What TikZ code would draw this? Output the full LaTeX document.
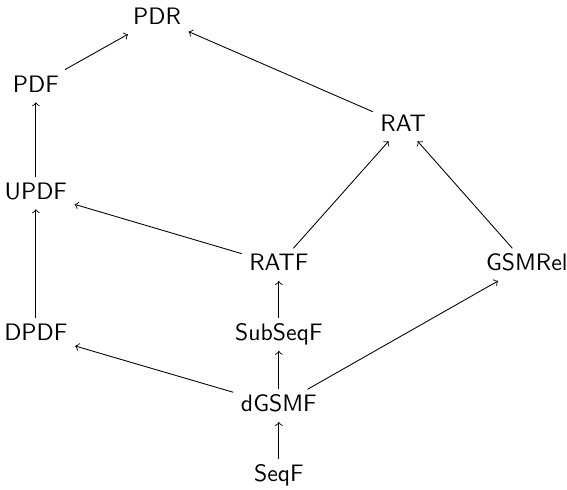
\documentclass[tikz,border=0pt]{standalone}
\begin{document}
\begin{tikzpicture}[font=\sffamily\fontsize{10.95}{13}\selectfont, every node/.style={text height=1.6ex, text depth=0.25ex}]
  \useasboundingbox (0,0) rectangle (9.17,7.92);
  % classes
  \node (pdr) at (2.54,7.63) {PDR};
  \node (pdf) at (0.58,6.53) {PDF};
  \node (rat) at (6.52,5.90) {RAT};
  \node (updf) at (0.58,4.80) {UPDF};
  \node (ratf) at (4.51,3.64) {RATF};
  \node (gsmrel) at (8.52,3.64) {GSMRel};
  \node (dpdf) at (0.58,2.51) {DPDF};
  \node (subseqf) at (4.51,2.51) {SubSeqF};
  \node (dgsmf) at (4.51,1.36) {dGSMF};
  \node (seqf) at (4.51,0.24) {SeqF};
  % inclusions
  \draw[->] (pdf) -- (pdr);
  \draw[->] (rat) -- (pdr);
  \draw[->] (updf) -- (pdf);
  \draw[->] (dpdf) -- (updf);
  \draw[->] (ratf) -- (updf);
  \draw[->] (ratf) -- (rat);
  \draw[->] (gsmrel) -- (rat);
  \draw[->] (subseqf) -- (ratf);
  \draw[->] (dgsmf) -- (subseqf);
  \draw[->] (dgsmf) -- (dpdf);
  \draw[->] (dgsmf) -- (gsmrel);
  \draw[->] (seqf) -- (dgsmf);
\end{tikzpicture}
\end{document}
